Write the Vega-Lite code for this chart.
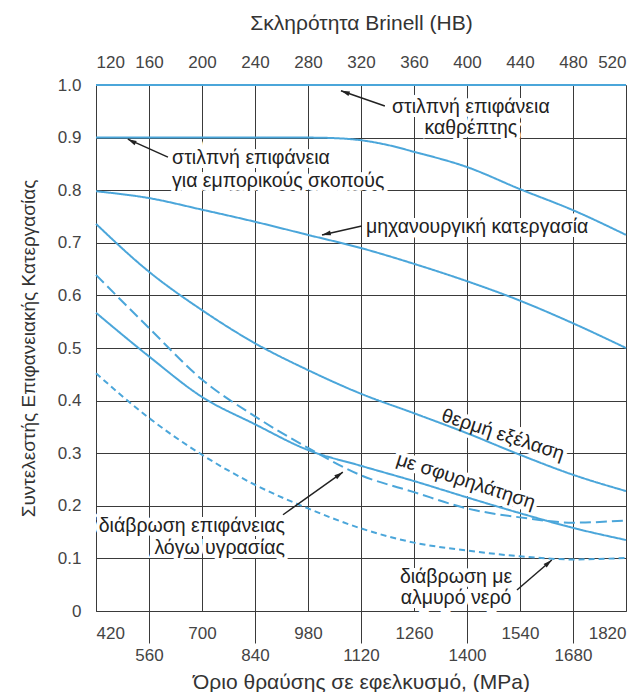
{
  "$schema": "https://vega.github.io/schema/vega-lite/v6.json",
  "width": 530,
  "height": 526,
  "autosize": {"type": "none"},
  "padding": {"left": 96, "top": 85, "right": 13, "bottom": 81},
  "background": "white",
  "config": {
    "view": {"stroke": null},
    "font": "Liberation Sans",
    "axis": {
      "labelFont": "Liberation Sans",
      "titleFont": "Liberation Sans",
      "labelFontSize": 17,
      "titleFontSize": 21,
      "labelColor": "#444",
      "titleColor": "#333",
      "titleFontWeight": "normal",
      "gridColor": "#3a3a3a",
      "gridOpacity": 1,
      "gridWidth": 1,
      "domainColor": "#3a3a3a",
      "domainWidth": 1,
      "tickColor": "#3a3a3a",
      "tickWidth": 1
    }
  },
  "datasets": {
    "curves": [
      {"finish": "mirror", "mpa": 420, "k": 1.0},
      {"finish": "mirror", "mpa": 1820, "k": 1.0},
      {"finish": "commercial", "mpa": 420, "k": 0.9},
      {"finish": "commercial", "mpa": 700, "k": 0.9},
      {"finish": "commercial", "mpa": 980, "k": 0.9},
      {"finish": "commercial", "mpa": 1050, "k": 0.899},
      {"finish": "commercial", "mpa": 1120, "k": 0.895},
      {"finish": "commercial", "mpa": 1190, "k": 0.886},
      {"finish": "commercial", "mpa": 1260, "k": 0.873},
      {"finish": "commercial", "mpa": 1400, "k": 0.844},
      {"finish": "commercial", "mpa": 1540, "k": 0.802},
      {"finish": "commercial", "mpa": 1680, "k": 0.762},
      {"finish": "commercial", "mpa": 1820, "k": 0.715},
      {"finish": "machined", "mpa": 420, "k": 0.798},
      {"finish": "machined", "mpa": 560, "k": 0.785},
      {"finish": "machined", "mpa": 700, "k": 0.763},
      {"finish": "machined", "mpa": 840, "k": 0.74},
      {"finish": "machined", "mpa": 980, "k": 0.715},
      {"finish": "machined", "mpa": 1120, "k": 0.69},
      {"finish": "machined", "mpa": 1260, "k": 0.66},
      {"finish": "machined", "mpa": 1400, "k": 0.627},
      {"finish": "machined", "mpa": 1540, "k": 0.59},
      {"finish": "machined", "mpa": 1680, "k": 0.547},
      {"finish": "machined", "mpa": 1820, "k": 0.5},
      {"finish": "hotrolled", "mpa": 420, "k": 0.736},
      {"finish": "hotrolled", "mpa": 560, "k": 0.645},
      {"finish": "hotrolled", "mpa": 700, "k": 0.572},
      {"finish": "hotrolled", "mpa": 840, "k": 0.509},
      {"finish": "hotrolled", "mpa": 980, "k": 0.458},
      {"finish": "hotrolled", "mpa": 1120, "k": 0.413},
      {"finish": "hotrolled", "mpa": 1260, "k": 0.376},
      {"finish": "hotrolled", "mpa": 1400, "k": 0.338},
      {"finish": "hotrolled", "mpa": 1540, "k": 0.297},
      {"finish": "hotrolled", "mpa": 1680, "k": 0.259},
      {"finish": "hotrolled", "mpa": 1820, "k": 0.228},
      {"finish": "forged", "mpa": 420, "k": 0.567},
      {"finish": "forged", "mpa": 560, "k": 0.484},
      {"finish": "forged", "mpa": 700, "k": 0.407},
      {"finish": "forged", "mpa": 840, "k": 0.355},
      {"finish": "forged", "mpa": 980, "k": 0.306},
      {"finish": "forged", "mpa": 1120, "k": 0.276},
      {"finish": "forged", "mpa": 1260, "k": 0.247},
      {"finish": "forged", "mpa": 1400, "k": 0.216},
      {"finish": "forged", "mpa": 1540, "k": 0.186},
      {"finish": "forged", "mpa": 1680, "k": 0.158},
      {"finish": "forged", "mpa": 1820, "k": 0.135},
      {"finish": "moisture", "mpa": 420, "k": 0.639},
      {"finish": "moisture", "mpa": 560, "k": 0.538},
      {"finish": "moisture", "mpa": 700, "k": 0.44},
      {"finish": "moisture", "mpa": 840, "k": 0.37},
      {"finish": "moisture", "mpa": 980, "k": 0.31},
      {"finish": "moisture", "mpa": 1120, "k": 0.258},
      {"finish": "moisture", "mpa": 1260, "k": 0.226},
      {"finish": "moisture", "mpa": 1400, "k": 0.195},
      {"finish": "moisture", "mpa": 1540, "k": 0.178},
      {"finish": "moisture", "mpa": 1680, "k": 0.168},
      {"finish": "moisture", "mpa": 1820, "k": 0.172},
      {"finish": "salt", "mpa": 420, "k": 0.452},
      {"finish": "salt", "mpa": 560, "k": 0.367},
      {"finish": "salt", "mpa": 700, "k": 0.297},
      {"finish": "salt", "mpa": 840, "k": 0.24},
      {"finish": "salt", "mpa": 980, "k": 0.195},
      {"finish": "salt", "mpa": 1120, "k": 0.157},
      {"finish": "salt", "mpa": 1260, "k": 0.13},
      {"finish": "salt", "mpa": 1400, "k": 0.115},
      {"finish": "salt", "mpa": 1540, "k": 0.104},
      {"finish": "salt", "mpa": 1680, "k": 0.098},
      {"finish": "salt", "mpa": 1820, "k": 0.101}
    ],
    "labelsCenter": [
      {"text": "στιλπνή επιφάνεια", "mpa": 1410, "k": 0.958},
      {"text": "καθρέπτης", "mpa": 1410, "k": 0.918},
      {"text": "διάβρωση με", "mpa": 1371, "k": 0.065},
      {"text": "αλμυρό νερό", "mpa": 1371, "k": 0.025}
    ],
    "labelsLeft": [
      {"text": "στιλπνή επιφάνεια", "mpa": 621, "k": 0.861},
      {"text": "για εμπορικούς σκοπούς", "mpa": 621, "k": 0.818},
      {"text": "μηχανουργική κατεργασία", "mpa": 1133, "k": 0.73}
    ],
    "labelsRight": [
      {"text": "διάβρωση επιφάνειας", "mpa": 919, "k": 0.162},
      {"text": "λόγω υγρασίας", "mpa": 919, "k": 0.12}
    ],
    "labelsRot": [
      {"text": "θερμή εξέλαση", "mpa": 1495, "k": 0.335},
      {"text": "με σφυρηλάτηση", "mpa": 1397, "k": 0.247}
    ],
    "arrows": [
      {"id": "a1", "mpa": 1183, "k": 0.96, "mpa2": 1067, "k2": 0.989},
      {"id": "a2", "mpa": 610, "k": 0.863, "mpa2": 504, "k2": 0.897},
      {"id": "a3", "mpa": 1122, "k": 0.732, "mpa2": 1017, "k2": 0.715},
      {"id": "a4", "mpa": 914, "k": 0.183, "mpa2": 1072, "k2": 0.264},
      {"id": "a5", "mpa": 1532, "k": 0.04, "mpa2": 1624, "k2": 0.097}
    ]
  },
  "layer": [
    {
      "data": {"name": "labelsCenter"},
      "mark": {"type": "text", "align": "center", "baseline": "middle", "fontSize": 19.5, "fill": "white", "stroke": "white", "strokeWidth": 8},
      "encoding": {
        "x": {"field": "mpa", "type": "quantitative", "scale": {"domain": [420, 1820], "nice": false, "zero": false},
          "axis": {"orient": "top", "values": [420, 560, 700, 840, 980, 1120, 1260, 1400, 1540, 1680, 1820],
            "labelExpr": "format(120 + (datum.value - 420) / 3.5, 'd')", "ticks": false, "domain": false, "grid": false,
            "labelPadding": 14, "title": "Σκληρότητα Brinell (HB)", "titlePadding": 20}},
        "y": {"field": "k", "type": "quantitative"},
        "text": {"field": "text"}
      }
    },
    {
      "data": {"name": "labelsLeft"},
      "mark": {"type": "text", "align": "left", "baseline": "middle", "fontSize": 19.5, "fill": "white", "stroke": "white", "strokeWidth": 8},
      "encoding": {
        "x": {"field": "mpa", "type": "quantitative", "axis": null},
        "y": {"field": "k", "type": "quantitative"},
        "text": {"field": "text"}
      }
    },
    {
      "data": {"name": "labelsRight"},
      "mark": {"type": "text", "align": "right", "baseline": "middle", "fontSize": 19.5, "fill": "white", "stroke": "white", "strokeWidth": 8},
      "encoding": {
        "x": {"field": "mpa", "type": "quantitative", "axis": null},
        "y": {"field": "k", "type": "quantitative"},
        "text": {"field": "text"}
      }
    },
    {
      "data": {"name": "labelsRot"},
      "mark": {"type": "text", "align": "center", "baseline": "middle", "fontSize": 19.5, "angle": 18, "fill": "white", "stroke": "white", "strokeWidth": 8},
      "encoding": {
        "x": {"field": "mpa", "type": "quantitative", "axis": null},
        "y": {"field": "k", "type": "quantitative"},
        "text": {"field": "text"}
      }
    },
    {
      "data": {"name": "curves"},
      "mark": {"type": "line", "interpolate": "monotone", "strokeWidth": 2, "color": "#4ba6da"},
      "encoding": {
        "x": {"field": "mpa", "type": "quantitative",
          "axis": {"orient": "bottom", "values": [420, 560, 700, 840, 980, 1120, 1260, 1400, 1540, 1680, 1820],
            "format": "d", "grid": true, "domain": true, "ticks": true,
            "tickSize": {"condition": {"test": "datum.value % 280 == 0", "value": 32}, "value": 0},
            "labelPadding": {"condition": {"test": "datum.value % 280 == 0", "value": 4}, "value": 14},
            "title": "Όριο θραύσης σε εφελκυσμό, (MPa)", "titlePadding": 8}},
        "y": {"field": "k", "type": "quantitative", "scale": {"domain": [0, 1], "nice": false},
          "axis": {"values": [0, 0.1, 0.2, 0.3, 0.4, 0.5, 0.6, 0.7, 0.8, 0.9, 1.0],
            "labelExpr": "datum.value == 0 ? '0' : format(datum.value, '.1f')",
            "grid": true, "ticks": false, "domain": true, "labelPadding": 15, "titleFontSize": 19,
            "title": "Συντελεστής Επιφανειακής Κατεργασίας", "titlePadding": 19}},
        "detail": {"field": "finish"},
        "strokeDash": {"field": "finish", "type": "nominal", "legend": null,
          "scale": {"domain": ["mirror", "commercial", "machined", "hotrolled", "forged", "moisture", "salt"],
            "range": [[1, 0], [1, 0], [1, 0], [1, 0], [1, 0], [11, 5], [6, 4]]}}
      }
    },
    {
      "data": {"name": "arrows"},
      "mark": {"type": "rule", "color": "#222", "strokeWidth": 1.5},
      "encoding": {
        "x": {"field": "mpa", "type": "quantitative", "axis": null},
        "y": {"field": "k", "type": "quantitative"},
        "x2": {"field": "mpa2"},
        "y2": {"field": "k2"}
      }
    },
    {
      "data": {"name": "arrows"},
      "transform": [{"filter": "datum.id == 'a1'"}],
      "mark": {"type": "point", "shape": "M0,0L0.6,2.2L-0.6,2.2Z", "size": 64, "filled": true, "color": "#222", "opacity": 1, "angle": 289},
      "encoding": {"x": {"field": "mpa2", "type": "quantitative", "axis": null}, "y": {"field": "k2", "type": "quantitative"}}
    },
    {
      "data": {"name": "arrows"},
      "transform": [{"filter": "datum.id == 'a2'"}],
      "mark": {"type": "point", "shape": "M0,0L0.6,2.2L-0.6,2.2Z", "size": 64, "filled": true, "color": "#222", "opacity": 1, "angle": 297},
      "encoding": {"x": {"field": "mpa2", "type": "quantitative", "axis": null}, "y": {"field": "k2", "type": "quantitative"}}
    },
    {
      "data": {"name": "arrows"},
      "transform": [{"filter": "datum.id == 'a3'"}],
      "mark": {"type": "point", "shape": "M0,0L0.6,2.2L-0.6,2.2Z", "size": 64, "filled": true, "color": "#222", "opacity": 1, "angle": 257},
      "encoding": {"x": {"field": "mpa2", "type": "quantitative", "axis": null}, "y": {"field": "k2", "type": "quantitative"}}
    },
    {
      "data": {"name": "arrows"},
      "transform": [{"filter": "datum.id == 'a4'"}],
      "mark": {"type": "point", "shape": "M0,0L0.6,2.2L-0.6,2.2Z", "size": 64, "filled": true, "color": "#222", "opacity": 1, "angle": 54},
      "encoding": {"x": {"field": "mpa2", "type": "quantitative", "axis": null}, "y": {"field": "k2", "type": "quantitative"}}
    },
    {
      "data": {"name": "arrows"},
      "transform": [{"filter": "datum.id == 'a5'"}],
      "mark": {"type": "point", "shape": "M0,0L0.6,2.2L-0.6,2.2Z", "size": 64, "filled": true, "color": "#222", "opacity": 1, "angle": 49},
      "encoding": {"x": {"field": "mpa2", "type": "quantitative", "axis": null}, "y": {"field": "k2", "type": "quantitative"}}
    },
    {
      "data": {"name": "labelsCenter"},
      "mark": {"type": "text", "align": "center", "baseline": "middle", "fontSize": 19.5, "color": "#222"},
      "encoding": {
        "x": {"field": "mpa", "type": "quantitative", "axis": null},
        "y": {"field": "k", "type": "quantitative"},
        "text": {"field": "text"}
      }
    },
    {
      "data": {"name": "labelsLeft"},
      "mark": {"type": "text", "align": "left", "baseline": "middle", "fontSize": 19.5, "color": "#222"},
      "encoding": {
        "x": {"field": "mpa", "type": "quantitative", "axis": null},
        "y": {"field": "k", "type": "quantitative"},
        "text": {"field": "text"}
      }
    },
    {
      "data": {"name": "labelsRight"},
      "mark": {"type": "text", "align": "right", "baseline": "middle", "fontSize": 19.5, "color": "#222"},
      "encoding": {
        "x": {"field": "mpa", "type": "quantitative", "axis": null},
        "y": {"field": "k", "type": "quantitative"},
        "text": {"field": "text"}
      }
    },
    {
      "data": {"name": "labelsRot"},
      "mark": {"type": "text", "align": "center", "baseline": "middle", "fontSize": 19.5, "angle": 18, "color": "#222"},
      "encoding": {
        "x": {"field": "mpa", "type": "quantitative", "axis": null},
        "y": {"field": "k", "type": "quantitative"},
        "text": {"field": "text"}
      }
    }
  ],
  "resolve": {"axis": {"x": "independent"}}
}
